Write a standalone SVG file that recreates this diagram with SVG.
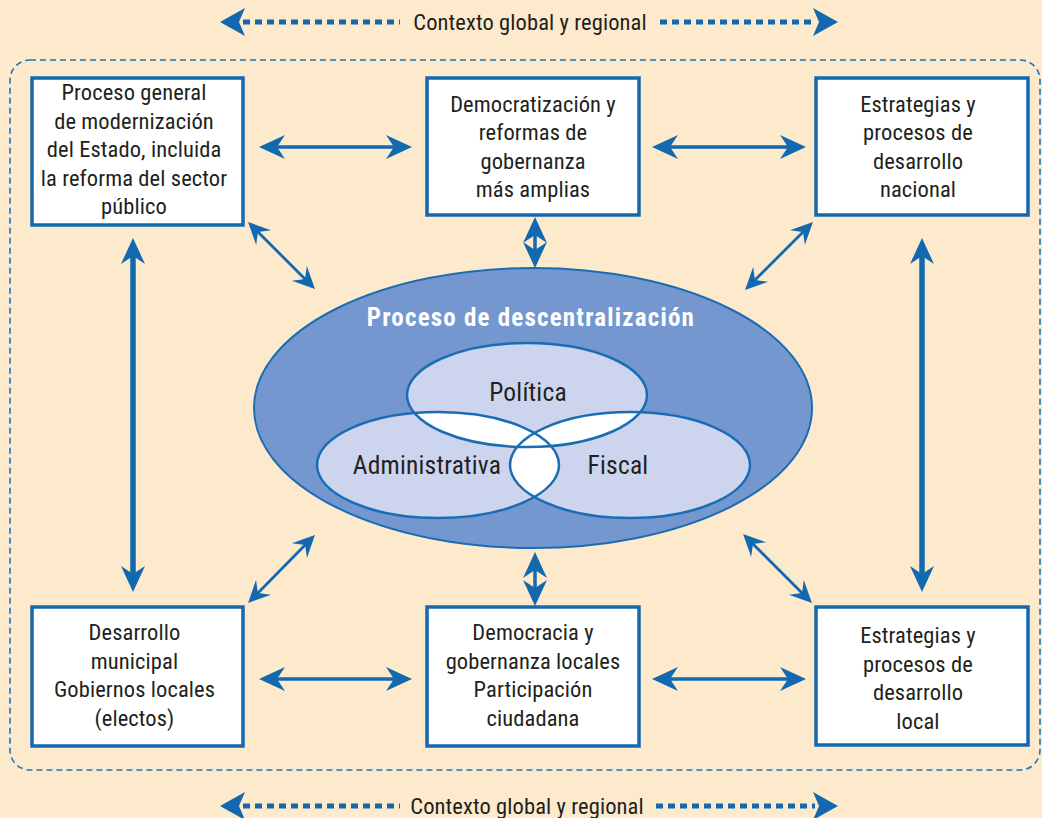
<svg xmlns="http://www.w3.org/2000/svg" width="1042" height="818" viewBox="0 0 1042 818">
<style>
.box{fill:#fff;stroke:#1269b0;stroke-width:3.5}
.t{font-family:"Liberation Sans Narrow","Roboto Condensed","Liberation Sans",sans-serif;font-size:22.5px;letter-spacing:0.1px;fill:#231f20;text-anchor:middle}
.v{font-size:25.5px;letter-spacing:0.2px}
.title{font-family:"Liberation Sans Narrow","Roboto Condensed","Liberation Sans",sans-serif;font-size:25px;font-weight:bold;letter-spacing:1.2px;fill:#fff;text-anchor:middle}
.thin{stroke:#1269b0;stroke-width:3.5;fill:none;marker-start:url(#ah);marker-end:url(#ah)}
.thick{stroke:#1269b0;stroke-width:5.5;fill:none;marker-start:url(#ah);marker-end:url(#ah)}
.diag{stroke:#1269b0;stroke-width:2.8;fill:none;marker-start:url(#ahs);marker-end:url(#ahs)}
.dot{stroke:#1269b0;stroke-width:5;stroke-dasharray:7 5;fill:none}
.venn{fill:#cdd5ee}
.vs{fill:none;stroke:#1a6db5;stroke-width:2.5}
</style>
<defs>
<marker id="ah" markerUnits="userSpaceOnUse" viewBox="-20 -14 32 28" markerWidth="32" markerHeight="28" refX="0" refY="0" orient="auto-start-reverse" overflow="visible">
<path d="M10,0 L-16,-12 L-8,0 L-16,12 Z" fill="#1269b0"/>
</marker>
<marker id="ahs" markerUnits="userSpaceOnUse" viewBox="-20 -14 32 28" markerWidth="32" markerHeight="28" refX="0" refY="0" orient="auto-start-reverse" overflow="visible">
<path d="M7,0 L-15,-10.5 L-7,0 L-15,10.5 Z" fill="#1269b0"/>
</marker>
<path id="dh" d="M0,0 L25,-14 L19,0 L25,14 Z" fill="#1269b0"/>
<clipPath id="cP"><ellipse cx="527" cy="395" rx="120" ry="52"/></clipPath>
<clipPath id="cA"><ellipse cx="438" cy="465" rx="121" ry="53"/></clipPath>
</defs>
<rect width="1042" height="818" fill="#fde9cb"/>
<rect x="10" y="60" width="1030" height="710" rx="20" fill="none" stroke="#1a75bb" stroke-width="1.6" stroke-dasharray="6 4"/>

<g id="context-top">
<use href="#dh" x="220" y="22"/>
<line class="dot" x1="243" y1="22" x2="400" y2="22"/>
<text class="t" x="530" y="30">Contexto global y regional</text>
<line class="dot" x1="660" y1="22" x2="815" y2="22"/>
<use href="#dh" transform="translate(838,22) rotate(180)"/>
</g>
<g id="context-bottom">
<use href="#dh" x="220" y="806"/>
<line class="dot" x1="243" y1="806" x2="400" y2="806"/>
<text class="t" x="527" y="814">Contexto global y regional</text>
<line class="dot" x1="656" y1="806" x2="815" y2="806"/>
<use href="#dh" transform="translate(838,806) rotate(180)"/>
</g>

<g id="connectors">
<line class="thin" x1="269" y1="147" x2="402" y2="147"/>
<line class="thin" x1="662" y1="147" x2="796" y2="147"/>
<line class="thin" x1="269" y1="679" x2="402" y2="679"/>
<line class="thin" x1="662" y1="679" x2="796" y2="679"/>
<line class="thin" x1="535" y1="227" x2="535" y2="258"/>
<line class="thin" x1="535" y1="562" x2="535" y2="596"/>
<line class="thick" x1="133" y1="248" x2="133" y2="582"/>
<line class="thick" x1="922" y1="248" x2="922" y2="582"/>
<line class="diag" x1="253" y1="227" x2="310" y2="284"/>
<line class="diag" x1="808" y1="227" x2="750" y2="285"/>
<line class="diag" x1="310" y1="540" x2="253" y2="598"/>
<line class="diag" x1="748" y1="539" x2="807" y2="598"/>
</g>

<g id="decentralization">
<ellipse cx="533" cy="408" rx="279" ry="140" fill="#7597cf" stroke="#1a6db5" stroke-width="2"/>
<text class="title" x="531" y="326">Proceso de descentralización</text>
<ellipse class="venn" cx="527" cy="395" rx="120" ry="52"/>
<ellipse class="venn" cx="438" cy="465" rx="121" ry="53"/>
<ellipse class="venn" cx="630" cy="465" rx="120" ry="53"/>
<ellipse cx="438" cy="465" rx="121" ry="53" fill="#fff" clip-path="url(#cP)"/>
<ellipse cx="630" cy="465" rx="120" ry="53" fill="#fff" clip-path="url(#cP)"/>
<ellipse cx="630" cy="465" rx="120" ry="53" fill="#fff" clip-path="url(#cA)"/>
<ellipse class="vs" cx="527" cy="395" rx="120" ry="52"/>
<ellipse class="vs" cx="438" cy="465" rx="121" ry="53"/>
<ellipse class="vs" cx="630" cy="465" rx="120" ry="53"/>
<text class="t v" x="528" y="401">Política</text>
<text class="t v" x="427" y="474">Administrativa</text>
<text class="t v" x="618" y="474">Fiscal</text>
</g>

<g id="box-modernizacion">
<rect class="box" x="32" y="78" width="211" height="147"/>
<text class="t" x="134" y="100">Proceso general</text>
<text class="t" x="134" y="128.5">de modernización</text>
<text class="t" x="134" y="157">del Estado, incluida</text>
<text class="t" x="134" y="185.5">la reforma del sector</text>
<text class="t" x="134" y="214">público</text>
</g>
<g id="box-democratizacion">
<rect class="box" x="427" y="78" width="212" height="137"/>
<text class="t" x="533" y="112">Democratización y</text>
<text class="t" x="533" y="140">reformas de</text>
<text class="t" x="533" y="168.5">gobernanza</text>
<text class="t" x="533" y="197">más amplias</text>
</g>
<g id="box-nacional">
<rect class="box" x="816" y="78" width="212" height="137"/>
<text class="t" x="918" y="112">Estrategias y</text>
<text class="t" x="918" y="140">procesos de</text>
<text class="t" x="918" y="168.5">desarrollo</text>
<text class="t" x="918" y="197">nacional</text>
</g>
<g id="box-municipal">
<rect class="box" x="32" y="607" width="211" height="139"/>
<text class="t" x="134.5" y="640">Desarrollo</text>
<text class="t" x="134.5" y="668.5">municipal</text>
<text class="t" x="134.5" y="697">Gobiernos locales</text>
<text class="t" x="134.5" y="725.5">(electos)</text>
</g>
<g id="box-democracia">
<rect class="box" x="427" y="607" width="212" height="139"/>
<text class="t" x="533" y="640">Democracia y</text>
<text class="t" x="533" y="668.5">gobernanza locales</text>
<text class="t" x="533" y="697">Participación</text>
<text class="t" x="533" y="725.5">ciudadana</text>
</g>
<g id="box-local">
<rect class="box" x="816" y="607" width="212" height="138"/>
<text class="t" x="918" y="643">Estrategias y</text>
<text class="t" x="918" y="671.5">procesos de</text>
<text class="t" x="918" y="700">desarrollo</text>
<text class="t" x="918" y="728.5">local</text>
</g>
</svg>
